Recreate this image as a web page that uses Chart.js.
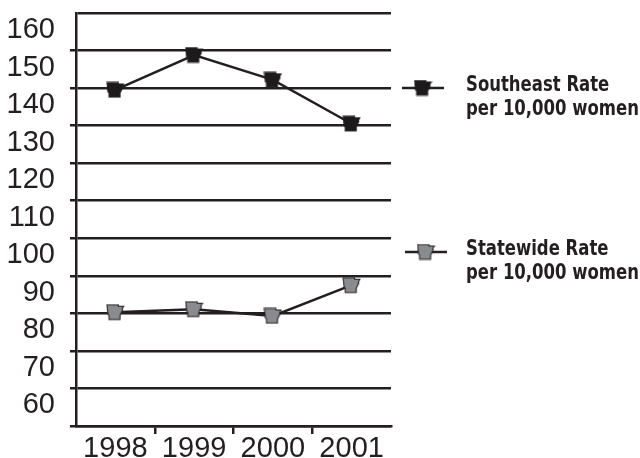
<!DOCTYPE html>
<html>
<head>
<meta charset="utf-8">
<script src="https://cdn.jsdelivr.net/npm/chart.js@4"></script>
<style>
html,body{margin:0;padding:0;background:#fff;}
#wrap{width:640px;height:458px;position:relative;}
</style>
</head>
<body>
<div id="wrap"><canvas id="c" width="640" height="458"></canvas></div>
<script>
const years = ['1998', '1999', '2000', '2001'];
const southeastRate = [139.5, 148.8, 142.2, 130.5];
const statewideRate = [80.3, 81.1, 79.3, 87.5];
const seriesLabels = [['Southeast Rate', 'per 10,000 women'], ['Statewide Rate', 'per 10,000 women']];
const yMin = 50, yMax = 160, yStep = 10;

const INK = '#231f20';
function makeMarker(fill) {
  const c = document.createElement('canvas');
  c.width = 19; c.height = 17;
  const g = c.getContext('2d');
  g.translate(1, 1);
  g.scale(1.05, 1.05);
  g.beginPath();
  const pts = [[0,0],[11,0],[11,1.5],[16,1.5],[14.5,4],[15,5],[13.5,8],[12.5,10],[12.5,14],[2,14],[2,10],[1,9],[0.5,4]];
  pts.forEach((p, i) => i ? g.lineTo(p[0], p[1]) : g.moveTo(p[0], p[1]));
  g.closePath();
  g.fillStyle = fill; g.fill();
  g.lineWidth = 1; g.strokeStyle = INK; g.stroke();
  return c;
}
const markerDark = makeMarker('#1c1a1b');
const markerGray = makeMarker('#8a8b8d');

const legendPlugin = {
  id: 'sideLegend',
  afterDraw(chart) {
    const g = chart.ctx;
    const ca = chart.chartArea;
    const rows = [
      { y: 88, marker: markerDark, lines: seriesLabels[0], x0: ca.right + 11 },
      { y: 252, marker: markerGray, lines: seriesLabels[1], x0: ca.right + 14 }
    ];
    g.save();
    const fam = "'Liberation Sans Narrow', 'DejaVu Sans Condensed', 'DejaVu Sans', sans-serif";
    g.font = 'bold 22px ' + fam;
    const w = g.measureText(seriesLabels[0][1]).width;
    const sx = Math.min(1, 173 / w);
    rows.forEach(r => {
      g.strokeStyle = INK; g.lineWidth = 2.5;
      g.beginPath(); g.moveTo(r.x0, r.y); g.lineTo(r.x0 + 42, r.y); g.stroke();
      g.drawImage(r.marker, r.x0 + 21 - r.marker.width / 2, r.y - r.marker.height / 2);
      g.fillStyle = INK;
      g.textBaseline = 'alphabetic'; g.textAlign = 'left';
      g.save();
      g.translate(ca.right + 75, r.y);
      g.scale(sx, 1);
      g.fillText(r.lines[0], 0, 3);
      g.fillText(r.lines[1], 0, 27);
      g.restore();
    });
    g.restore();
  }
};

new Chart(document.getElementById('c'), {
  type: 'line',
  data: {
    labels: years,
    datasets: [
      { label: seriesLabels[0].join(' '), data: southeastRate, borderColor: INK, borderWidth: 2.5,
        pointStyle: markerDark, pointRadius: 8, tension: 0, fill: false },
      { label: seriesLabels[1].join(' '), data: statewideRate, borderColor: INK, borderWidth: 2.5,
        pointStyle: markerGray, pointRadius: 8, tension: 0, fill: false }
    ]
  },
  options: {
    responsive: false,
    animation: false,
    devicePixelRatio: 1,
    layout: { padding: { top: 13, right: 249, left: 0, bottom: 0 } },
    plugins: { legend: { display: false }, tooltip: { enabled: false } },
    scales: {
      x: {
        offset: true,
        border: { display: true, color: INK, width: 2.5 },
        grid: {
          offset: true,
          drawOnChartArea: true,
          tickLength: 8,
          lineWidth: 2.5,
          color: (ctx) => ctx.index === years.length ? INK : 'rgba(0,0,0,0)',
          tickColor: (ctx) => (ctx.index > 0 && ctx.index < years.length) ? INK : 'rgba(0,0,0,0)'
        },
        ticks: { color: INK, padding: 0, autoSkip: false, maxRotation: 0,
          font: { family: "'Liberation Sans', Lato, sans-serif", size: 29, lineHeight: 1 } },
        afterFit(axis) { axis.height = 32; axis.paddingLeft = 0; axis.paddingRight = 0; }
      },
      y: {
        min: yMin, max: yMax,
        border: { display: true, color: INK, width: 2.5 },
        grid: {
          color: INK, lineWidth: 2.5, tickLength: 6,
          tickColor: (ctx) => (ctx.tick && ctx.tick.value === yMax) ? 'rgba(0,0,0,0)' : INK
        },
        ticks: {
          stepSize: yStep,
          autoSkip: false,
          color: INK,
          padding: 15,
          labelOffset: 17,
          font: { family: "'Liberation Sans', Lato, sans-serif", size: 29 },
          callback: (v) => v === yMin ? '' : String(v)
        },
        afterFit(axis) { axis.width = 76; axis.paddingTop = 0; axis.paddingBottom = 0; }
      }
    }
  },
  plugins: [legendPlugin]
});
</script>
</body>
</html>
